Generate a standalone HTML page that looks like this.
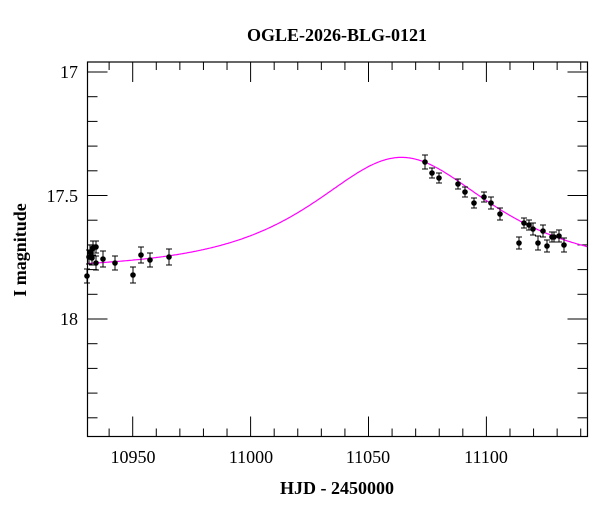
<!DOCTYPE html>
<html><head><meta charset="utf-8"><style>
body{margin:0;background:#fff;}
svg text{font-family:"Liberation Serif",serif;fill:#000;}
</style></head><body>
<svg id="s" width="600" height="512" xmlns="http://www.w3.org/2000/svg">
<rect x="0" y="0" width="600" height="512" fill="#fff"/>
<text x="337" y="41" font-size="18" text-anchor="middle" font-weight="bold">OGLE-2026-BLG-0121</text>
<text x="337" y="494" font-size="18" text-anchor="middle" font-weight="bold">HJD - 2450000</text>
<text transform="translate(26,250) rotate(-90)" font-size="18" text-anchor="middle" font-weight="bold">I magnitude</text>
<g id="ticks" stroke="#000" stroke-width="1"></g>
<g font-size="18" text-anchor="end">
<text x="78" y="78">17</text>
<text x="78" y="202">17.5</text>
<text x="78" y="325">18</text>
</g>
<g font-size="18" text-anchor="middle">
<text x="133" y="463">10950</text>
<text x="251" y="463">11000</text>
<text x="368" y="463">11050</text>
<text x="486" y="463">11100</text>
</g>
<path id="curve" fill="none" stroke="#ff00ff" stroke-width="1.2"/>
<g id="pts"></g>
<rect x="87.5" y="62" width="500" height="374.5" fill="none" stroke="#000" stroke-width="1.2"/>
</svg>
<script>
var ns="http://www.w3.org/2000/svg";
function X(t){return 132.7+(t-10950)*2.358;}
function Y(m){return 72+(m-17)*247;}
var tk=document.getElementById("ticks"),s="";
function ln(a,b,c,d){s+='<line x1="'+a+'" y1="'+b+'" x2="'+c+'" y2="'+d+'"/>';}
for(var t=10940;t<=11140;t+=10){var x=X(t);var L=(t%50==0)?20:8;ln(x,436.5,x,436.5-L);ln(x,62,x,62+L);}
for(var i=0;i<=14;i++){var m=17+i*0.1;var y=Y(m);if(y<62||y>436.5)continue;var L=(i%5==0)?20:10;ln(87.5,y,87.5+L,y);ln(587.5,y,587.5-L,y);}
tk.innerHTML=s;
var d="";
for(var t=10930.8;t<=11142.8;t+=0.5){var u0=0.81,tE=51,t0=11064;var dt=(t-t0)/tE;var u=Math.sqrt(u0*u0+dt*dt);var A=(u*u+2)/(u*Math.sqrt(u*u+4));var m=17.80-2.5*Math.log10(A);d+=(d?"L":"M")+X(t).toFixed(1)+","+Y(m).toFixed(1);}
document.getElementById("curve").setAttribute("d",d);
var P=[[87,276,7],[89,257,7],[90,252,7],[92,258,7],[93,248,7],[96,247,6],[96,263,7],[103,259,8],[115,263,7],[133,275,8],[141,255,8],[150,260,7],[169,257,8],
[425,162,7],[432,173,5],[439,178,5],[458,184,5],[465,192,5],[474,203,5],[484,197,5],[491,203,6],[500,214,6],[519,243,6],[524,223,5],[529,225,5],[533,229,6],[538,243,7],[543,231,6],[547,246,6],[552,237,5],[554,237,5],[559,236,6],[564,245,7]];
var g="";
P.forEach(function(p){var x=p[0],y=p[1],e=p[2];
g+='<line x1="'+x+'" y1="'+(y-e)+'" x2="'+x+'" y2="'+(y+e)+'" stroke="#000"/>';
g+='<line x1="'+(x-3)+'" y1="'+(y-e)+'" x2="'+(x+3)+'" y2="'+(y-e)+'" stroke="#000"/>';
g+='<line x1="'+(x-3)+'" y1="'+(y+e)+'" x2="'+(x+3)+'" y2="'+(y+e)+'" stroke="#000"/>';
g+='<circle cx="'+x+'" cy="'+y+'" r="2.8" fill="#000"/>';});
document.getElementById("pts").innerHTML=g;
</script>
</body></html>
